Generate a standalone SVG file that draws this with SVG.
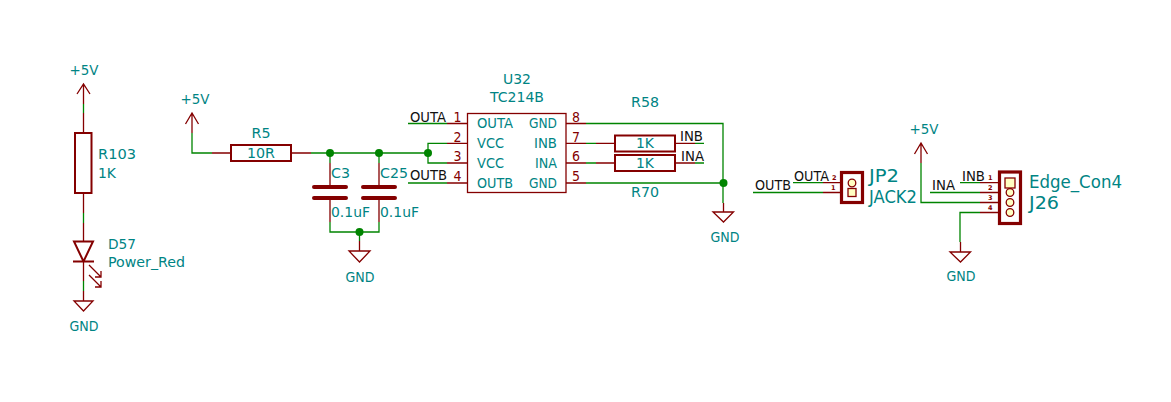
<svg xmlns="http://www.w3.org/2000/svg" width="1171" height="402" viewBox="0 0 1171 402">
<style>
text{font-family:"DejaVu Sans","Liberation Sans",sans-serif;font-size:14.5px;fill:#008484}
.k{fill:#111}
.r{fill:#840000}
.big{font-size:17px}
.n{font-size:6.500px;font-weight:bold;fill:#840000}
.m{text-anchor:middle}
.p{fill:none;stroke:#840000;stroke-width:1.3}
.b{fill:none;stroke:#840000;stroke-width:2}
.h{fill:none;stroke:#840000;stroke-width:3.2}
.t{fill:none;stroke:#840000;stroke-width:4;stroke-linecap:round}
.y{fill:#ffffc2;stroke:#840000;stroke-width:1.3}
.w{fill:none;stroke:#008400;stroke-width:1.3}
.d{fill:#008400}
</style>
<rect width="1171" height="402" fill="#fff"/>
<g id="connectors">
<path class="w" d="M83.5 104V113M83.5 213V223M83.5 281V291"/>
<path class="w" d="M192 133V153H212M311 153H428M330 153V163M379 153V163M330 222V232H379V222M359.5 232V241"/>
<path class="w" d="M408 123.500H447M447 143.300H428V163H447M408 183H447"/>
<path class="w" d="M586 123.500H723V203M586 183H723M586 143.300H596M586 163H596M695 143.300H704M695 163H704"/>
<path class="w" d="M793 182.700H823M753 192.500H823"/>
<path class="w" d="M921 163V202.500H980M960 182.700H980M930 192.500H980M980 212.500H960V242"/>
<circle class="d" cx="330" cy="153" r="4"/><circle class="d" cx="379" cy="153" r="4"/><circle class="d" cx="428" cy="153" r="4"/>
<circle class="d" cx="359.500" cy="232" r="4"/><circle class="d" cx="723.500" cy="183" r="4"/>
</g>
<g id="pwr1"><path class="p" d="M83.500 104V84M77 94L83.500 84L90 94"/><text class="m" x="84" y="75" textLength="29" lengthAdjust="spacingAndGlyphs">+5V</text></g>
<g id="R103"><rect class="b" x="75" y="133" width="16.500" height="60"/><path class="p" d="M83.500 113V133M83.500 193V213"/><text x="98" y="159" textLength="38" lengthAdjust="spacingAndGlyphs">R103</text><text x="98" y="178" textLength="18" lengthAdjust="spacingAndGlyphs">1K</text></g>
<g id="D57"><path class="p" d="M83.500 223V241M83.500 261.500V281"/><path class="b" d="M74 241.500H93L83.500 261.500ZM73 261.500H94"/><path class="p" d="M89 265L101 277M101 271V277H95M89 275L101 287M101 281V287H95"/><text x="108" y="249" textLength="28" lengthAdjust="spacingAndGlyphs">D57</text><text x="108" y="267" textLength="77" lengthAdjust="spacingAndGlyphs">Power_Red</text></g>
<g id="gnd1"><path class="p" d="M83.500 291V301M74 301H93L83.500 311Z"/><text class="m" x="84" y="331" textLength="29" lengthAdjust="spacingAndGlyphs">GND</text></g>
<g id="pwr2"><path class="p" d="M192 133V113M185.500 124L192 113L198.500 124"/><text class="m" x="195" y="104" textLength="29" lengthAdjust="spacingAndGlyphs">+5V</text></g>
<g id="R5"><rect class="b" x="231" y="145" width="60" height="16"/><path class="p" d="M212 153H231M291 153H311"/><text class="m" x="261" y="138" textLength="19" lengthAdjust="spacingAndGlyphs">R5</text><text class="m" x="261" y="158" textLength="28" lengthAdjust="spacingAndGlyphs">10R</text></g>
<g id="C3"><path class="p" d="M330 163V187M330 198V222"/><path class="t" d="M314 187H346M314 198H346"/><text x="331" y="178" textLength="19" lengthAdjust="spacingAndGlyphs">C3</text><text x="331" y="217" textLength="39" lengthAdjust="spacingAndGlyphs">0.1uF</text></g>
<g id="C25"><path class="p" d="M379 163V187M379 198V222"/><path class="t" d="M363 187H395M363 198H395"/><text x="380" y="178" textLength="28" lengthAdjust="spacingAndGlyphs">C25</text><text x="380" y="217" textLength="39" lengthAdjust="spacingAndGlyphs">0.1uF</text></g>
<g id="gnd2"><path class="p" d="M359.500 241V251M349 251H370L359.500 262Z"/><text class="m" x="360" y="282" textLength="29" lengthAdjust="spacingAndGlyphs">GND</text></g>
<g id="U32">
<rect class="p" x="467.500" y="113.500" width="98.500" height="79"/>
<path class="p" d="M447 123.500H467M447 143.300H467M447 163H467M447 183H467M566 123.500H586M566 143.300H586M566 163H586M566 183H586"/>
<text class="m" x="517" y="84" textLength="28" lengthAdjust="spacingAndGlyphs">U32</text><text class="m" x="517" y="102" textLength="54" lengthAdjust="spacingAndGlyphs">TC214B</text>
<text x="477" y="128" textLength="36" lengthAdjust="spacingAndGlyphs">OUTA</text><text x="477" y="148" textLength="27" lengthAdjust="spacingAndGlyphs">VCC</text><text x="477" y="168" textLength="27" lengthAdjust="spacingAndGlyphs">VCC</text><text x="477" y="188" textLength="36" lengthAdjust="spacingAndGlyphs">OUTB</text>
<text x="529" y="128" textLength="28" lengthAdjust="spacingAndGlyphs">GND</text><text x="534" y="148" textLength="23" lengthAdjust="spacingAndGlyphs">INB</text><text x="535" y="168" textLength="22" lengthAdjust="spacingAndGlyphs">INA</text><text x="529" y="188" textLength="28" lengthAdjust="spacingAndGlyphs">GND</text>
<text class="r m" x="457.500" y="122" textLength="8" lengthAdjust="spacingAndGlyphs">1</text><text class="r m" x="457.500" y="142" textLength="8" lengthAdjust="spacingAndGlyphs">2</text><text class="r m" x="457.500" y="161" textLength="8" lengthAdjust="spacingAndGlyphs">3</text><text class="r m" x="457.500" y="181" textLength="8" lengthAdjust="spacingAndGlyphs">4</text>
<text class="r m" x="576" y="122" textLength="8" lengthAdjust="spacingAndGlyphs">8</text><text class="r m" x="576" y="142" textLength="8" lengthAdjust="spacingAndGlyphs">7</text><text class="r m" x="576" y="161" textLength="8" lengthAdjust="spacingAndGlyphs">6</text><text class="r m" x="576" y="181" textLength="8" lengthAdjust="spacingAndGlyphs">5</text>
</g>
<g id="R58"><rect class="b" x="615" y="135.500" width="60" height="16"/><path class="p" d="M596 143.300H615M675 143.300H695"/><text class="m" x="645" y="107" textLength="28" lengthAdjust="spacingAndGlyphs">R58</text><text class="m" x="645" y="148" textLength="18" lengthAdjust="spacingAndGlyphs">1K</text></g>
<g id="R70"><rect class="b" x="615" y="155" width="60" height="16"/><path class="p" d="M596 163H615M675 163H695"/><text class="m" x="645" y="197" textLength="28" lengthAdjust="spacingAndGlyphs">R70</text><text class="m" x="645" y="168" textLength="18" lengthAdjust="spacingAndGlyphs">1K</text></g>
<g id="gnd3"><path class="p" d="M723.500 203V212M713 212H733.500L723.500 222Z"/><text class="m" x="725" y="242" textLength="29" lengthAdjust="spacingAndGlyphs">GND</text></g>
<g id="JP2"><rect class="h" x="841.500" y="172.500" width="21" height="30"/><path class="p" d="M823 182.700H841M823 192.500H841"/><circle class="y" cx="852" cy="183" r="3.800"/><rect class="y" x="848" y="188.500" width="8" height="8"/><text class="n" x="832" y="180">2</text><text class="n" x="831" y="190">1</text><text class="big" x="869" y="182" textLength="30" lengthAdjust="spacingAndGlyphs">JP2</text><text class="big" x="869" y="203" textLength="48" lengthAdjust="spacingAndGlyphs">JACK2</text></g>
<g id="pwr3"><path class="p" d="M921 163V143M914.500 154L921 143L927.500 154"/><text class="m" x="924" y="134" textLength="29" lengthAdjust="spacingAndGlyphs">+5V</text></g>
<g id="J26"><rect class="h" x="999.500" y="172" width="21" height="51.500"/><path class="p" d="M980 182.700H999M980 192.500H999M980 202.500H999M980 212.500H999"/><rect class="y" x="1005" y="178" width="10" height="10"/><circle class="y" cx="1010" cy="192.500" r="3.800"/><circle class="y" cx="1010" cy="202.500" r="3.800"/><circle class="y" cx="1010" cy="212.500" r="3.800"/><text class="n" x="988" y="180">1</text><text class="n" x="988" y="190">2</text><text class="n" x="988" y="200">3</text><text class="n" x="988" y="210">4</text><text class="big" x="1029" y="188" textLength="93" lengthAdjust="spacingAndGlyphs">Edge_Con4</text><text class="big" x="1029" y="209" textLength="30" lengthAdjust="spacingAndGlyphs">J26</text></g>
<g id="gnd4"><path class="p" d="M960.500 242V252M950 252H970.500L960.500 262Z"/><text class="m" x="961" y="281" textLength="29" lengthAdjust="spacingAndGlyphs">GND</text></g>
<g id="labels">
<text class="k" x="410" y="122" textLength="36" lengthAdjust="spacingAndGlyphs">OUTA</text><text class="k" x="410" y="180" textLength="37" lengthAdjust="spacingAndGlyphs">OUTB</text>
<text class="k" x="680" y="141" textLength="23" lengthAdjust="spacingAndGlyphs">INB</text><text class="k" x="681" y="161" textLength="23" lengthAdjust="spacingAndGlyphs">INA</text>
<text class="k" x="794" y="181" textLength="35" lengthAdjust="spacingAndGlyphs">OUTA</text><text class="k" x="755" y="190" textLength="36" lengthAdjust="spacingAndGlyphs">OUTB</text>
<text class="k" x="962" y="181" textLength="23" lengthAdjust="spacingAndGlyphs">INB</text><text class="k" x="932" y="190" textLength="23" lengthAdjust="spacingAndGlyphs">INA</text>
</g>
</svg>
